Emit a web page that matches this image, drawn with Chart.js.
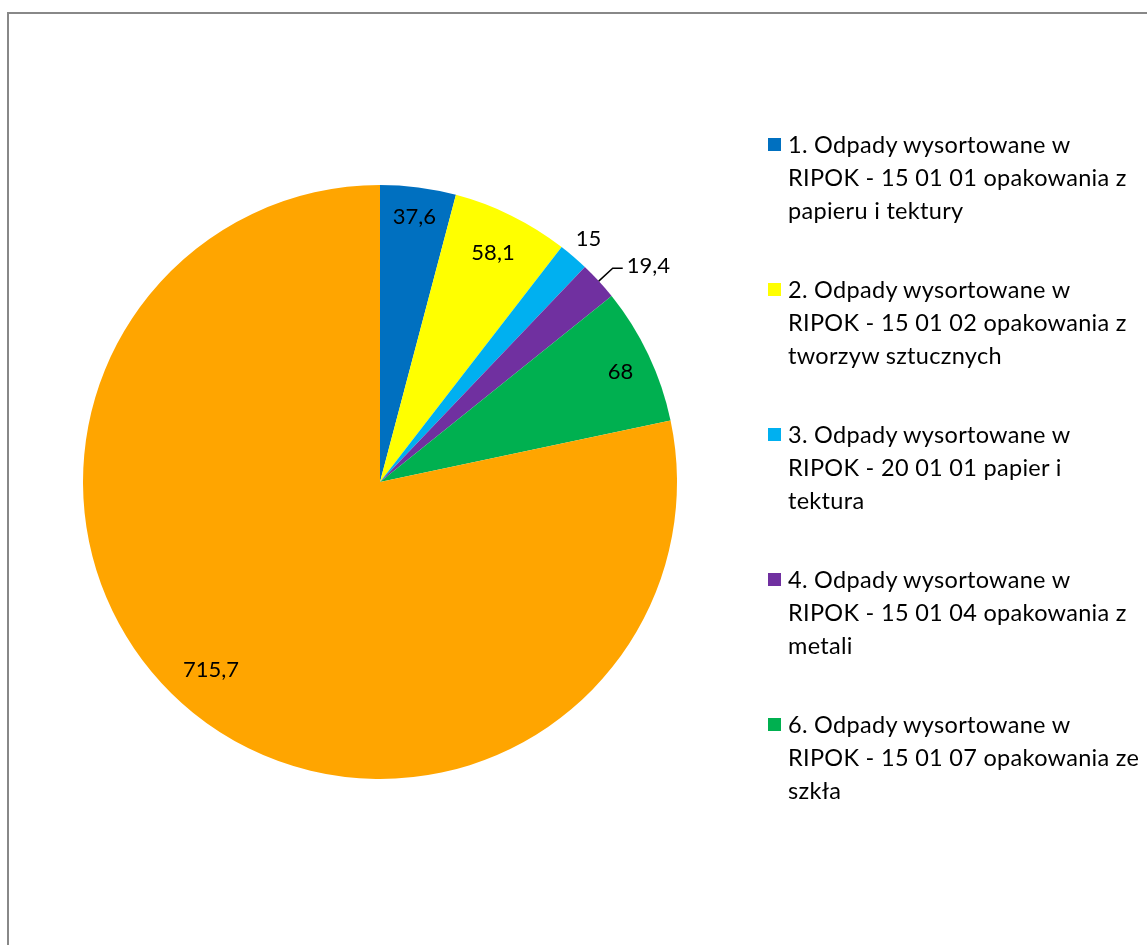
<!DOCTYPE html>
<html>
<head>
<meta charset="utf-8">
<script src="https://cdn.jsdelivr.net/npm/chart.js@4.4.1/dist/chart.umd.min.js"></script>
<style>
  html, body { margin: 0; padding: 0; background: #fff; overflow: hidden; width: 1147px; height: 945px; }
  #frame { position: absolute; left: 7px; top: 12px; width: 1300px; height: 1100px; border: 2px solid #888; box-sizing: border-box; }
  #wrap { position: absolute; left: 0; top: 0; width: 1147px; height: 945px; }
  #legend { position: absolute; left: 768px; top: 128px; font-family: Lato, "Open Sans", sans-serif; font-size: 23.5px; letter-spacing: 0.3px; color: #000; }
  .item { display: flex; align-items: flex-start; margin-bottom: 46px; }
  .sw { width: 13px; height: 13px; margin-top: 10px; margin-right: 7px; flex: none; }
  .txt { line-height: 33px; white-space: nowrap; }
</style>
</head>
<body>
<div id="frame"></div>
<div id="wrap"><canvas id="c" width="1147" height="945"></canvas></div>
<div id="legend"></div>
<script>
// ---- data ----
const categories = [
  ["1. Odpady wysortowane w", "RIPOK - 15 01 01 opakowania z", "papieru i tektury"],
  ["2. Odpady wysortowane w", "RIPOK - 15 01 02 opakowania z", "tworzyw sztucznych"],
  ["3. Odpady wysortowane w", "RIPOK - 20 01 01 papier i", "tektura"],
  ["4. Odpady wysortowane w", "RIPOK - 15 01 04 opakowania z", "metali"],
  ["6. Odpady wysortowane w", "RIPOK - 15 01 07 opakowania ze", "szkła"],
  ["5. Pozostałe"]
];
const values = [37.6, 58.1, 15, 19.4, 68, 715.7];
const showInLegend = [true, true, true, true, true, false];

// ---- styles ----
const colors = ["#0070C0", "#FFFF00", "#00B0F0", "#7030A0", "#00B050", "#FFA500"];
const labelPlacement = [
  { mode: "in", f: 0.90, rot: 0 },
  { mode: "in", f: 0.86, rot: 0 },
  { mode: "out", d: 23 },
  { mode: "leader", d: 19, h: 10 },
  { mode: "in", f: 0.89, rot: 0.8 },
  { mode: "in", f: 0.85, rot: 3 }
];
const labelFont = '22px Lato, "Open Sans", sans-serif';

function fmt(v) { return String(v).replace(".", ","); }

const dataLabelPlugin = {
  id: "dataLabels",
  afterDatasetsDraw(chart) {
    const ctx = chart.ctx;
    const meta = chart.getDatasetMeta(0);
    const ds = chart.data.datasets[0];
    ctx.save();
    ctx.font = labelFont;
    ctx.fillStyle = "#000";
    ctx.textBaseline = "middle";
    meta.data.forEach((arc, i) => {
      const p = arc.getProps(["x", "y", "startAngle", "endAngle", "outerRadius"], true);
      const pl = labelPlacement[i];
      const mid = (p.startAngle + p.endAngle) / 2;
      const text = fmt(ds.data[i]);
      if (pl.mode === "in" || pl.mode === "out") {
        const a = mid + (pl.rot || 0) * Math.PI / 180;
        const r = pl.mode === "in" ? p.outerRadius * pl.f : p.outerRadius + pl.d;
        ctx.textAlign = "center";
        ctx.fillText(text, p.x + r * Math.cos(a), p.y + r * Math.sin(a));
      } else {
        const x0 = p.x + p.outerRadius * Math.cos(mid);
        const y0 = p.y + p.outerRadius * Math.sin(mid);
        const x1 = p.x + (p.outerRadius + pl.d) * Math.cos(mid);
        const y1 = p.y + (p.outerRadius + pl.d) * Math.sin(mid);
        ctx.beginPath();
        ctx.moveTo(x0, y0);
        ctx.lineTo(x1, y1);
        ctx.lineTo(x1 + pl.h, y1);
        ctx.strokeStyle = "#000";
        ctx.lineWidth = 1.5;
        ctx.stroke();
        ctx.textAlign = "left";
        ctx.fillText(text, x1 + pl.h + 4, y1 - 2);
      }
    });
    ctx.restore();
  }
};

const chart = new Chart(document.getElementById("c"), {
  type: "pie",
  data: {
    labels: categories,
    datasets: [{
      data: values,
      backgroundColor: colors,
      borderWidth: 0
    }]
  },
  options: {
    responsive: false,
    animation: false,
    layout: { padding: { left: 83, right: 470, top: 185, bottom: 166 } },
    plugins: { legend: { display: false }, tooltip: { enabled: false } }
  },
  plugins: [dataLabelPlugin]
});

// HTML legend from the chart's data
const legendEl = document.getElementById("legend");
chart.data.labels.forEach((lab, i) => {
  if (!showInLegend[i]) return;
  const item = document.createElement("div");
  item.className = "item";
  const sw = document.createElement("div");
  sw.className = "sw";
  sw.style.background = chart.data.datasets[0].backgroundColor[i];
  const txt = document.createElement("div");
  txt.className = "txt";
  txt.innerHTML = lab.join("<br>");
  item.appendChild(sw);
  item.appendChild(txt);
  legendEl.appendChild(item);
});
</script>
</body>
</html>
